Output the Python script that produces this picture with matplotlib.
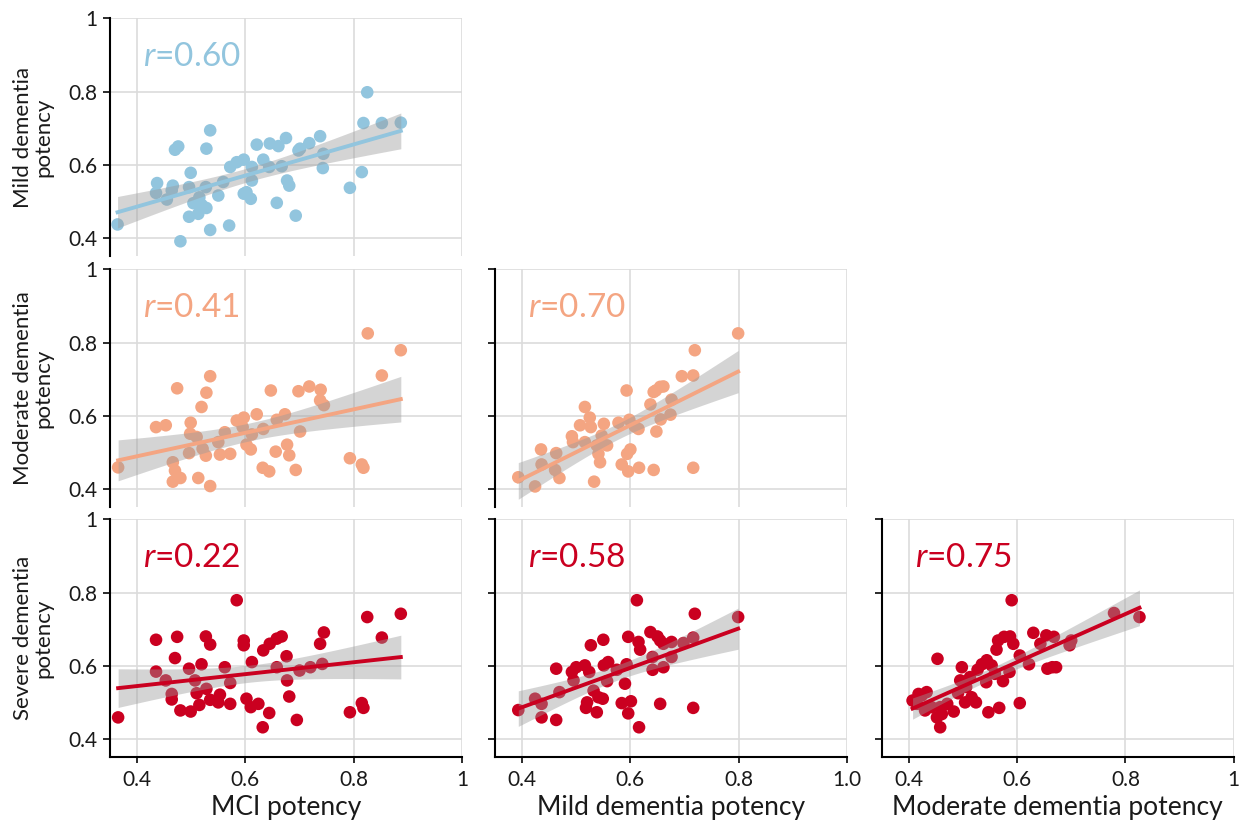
import numpy as np
import matplotlib
matplotlib.use("Agg")
import matplotlib.pyplot as plt

plt.rcParams['font.family'] = ['Lato', 'DejaVu Sans']
plt.rcParams['mathtext.fontset'] = 'custom'
plt.rcParams['mathtext.it'] = 'Lato:italic'
plt.rcParams['mathtext.rm'] = 'Lato'

# ---------------- data ----------------
mci_x_mild = [0.364, 0.480, 0.437, 0.435, 0.455, 0.466, 0.464, 0.470, 0.476, 0.499, 0.496, 0.496, 0.504,
              0.513, 0.515, 0.519, 0.528, 0.535, 0.528, 0.535, 0.527, 0.550, 0.559, 0.570, 0.572, 0.584,
              0.597, 0.602, 0.610, 0.612, 0.612, 0.597, 0.621, 0.633, 0.645, 0.644, 0.658, 0.661, 0.667,
              0.675, 0.677, 0.681, 0.693, 0.698, 0.701, 0.718, 0.738, 0.743, 0.744, 0.793, 0.815, 0.818,
              0.825, 0.852, 0.887]
mild_y_mci = [0.437, 0.391, 0.550, 0.523, 0.505, 0.543, 0.530, 0.641, 0.650, 0.578, 0.539, 0.458, 0.495,
              0.466, 0.511, 0.491, 0.482, 0.422, 0.644, 0.694, 0.539, 0.516, 0.553, 0.434, 0.594, 0.607,
              0.614, 0.525, 0.507, 0.557, 0.594, 0.521, 0.655, 0.614, 0.658, 0.594, 0.496, 0.651, 0.596,
              0.673, 0.557, 0.543, 0.461, 0.639, 0.644, 0.659, 0.678, 0.591, 0.630, 0.537, 0.580, 0.714,
              0.798, 0.714, 0.715]

mci_x_mod = [0.365, 0.435, 0.453, 0.474, 0.466, 0.470, 0.466, 0.480, 0.499, 0.498, 0.510, 0.496, 0.513,
             0.519, 0.528, 0.535, 0.527, 0.535, 0.521, 0.550, 0.553, 0.562, 0.572, 0.584, 0.597, 0.595,
             0.602, 0.610, 0.612, 0.621, 0.633, 0.632, 0.644, 0.647, 0.656, 0.658, 0.673, 0.677, 0.681,
             0.693, 0.698, 0.701, 0.718, 0.739, 0.738, 0.745, 0.793, 0.815, 0.818, 0.826, 0.852, 0.887]
mod_y_mci = [0.459, 0.569, 0.574, 0.675, 0.473, 0.450, 0.420, 0.430, 0.581, 0.551, 0.542, 0.498, 0.430,
             0.624, 0.663, 0.708, 0.491, 0.408, 0.510, 0.528, 0.494, 0.555, 0.496, 0.587, 0.595, 0.569,
             0.521, 0.508, 0.549, 0.604, 0.564, 0.458, 0.448, 0.669, 0.502, 0.589, 0.604, 0.521, 0.492,
             0.452, 0.667, 0.557, 0.680, 0.671, 0.642, 0.629, 0.484, 0.467, 0.458, 0.825, 0.710, 0.779]

mild_x_mod = [0.393, 0.424, 0.435, 0.436, 0.463, 0.461, 0.469, 0.492, 0.494, 0.507, 0.516, 0.516, 0.525,
              0.527, 0.533, 0.538, 0.541, 0.544, 0.547, 0.551, 0.557, 0.578, 0.584, 0.593, 0.594, 0.596,
              0.600, 0.598, 0.615, 0.616, 0.637, 0.643, 0.648, 0.643, 0.647, 0.655, 0.661, 0.656, 0.676,
              0.674, 0.695, 0.716, 0.719, 0.716, 0.799, 0.608]
mod_y_mild = [0.432, 0.407, 0.508, 0.467, 0.498, 0.452, 0.430, 0.544, 0.528, 0.574, 0.624, 0.528, 0.595,
              0.569, 0.420, 0.519, 0.496, 0.473, 0.546, 0.578, 0.519, 0.581, 0.467, 0.669, 0.496, 0.448,
              0.508, 0.589, 0.564, 0.458, 0.631, 0.665, 0.557, 0.452, 0.669, 0.679, 0.680, 0.590, 0.644,
              0.603, 0.708, 0.710, 0.779, 0.458, 0.825, 0.571]

mci_x_sev = [0.365, 0.435, 0.435, 0.453, 0.464, 0.464, 0.470, 0.474, 0.480, 0.496, 0.499, 0.507, 0.510,
             0.515, 0.519, 0.527, 0.535, 0.528, 0.535, 0.550, 0.553, 0.562, 0.572, 0.572, 0.584, 0.597,
             0.597, 0.602, 0.610, 0.612, 0.624, 0.633, 0.632, 0.644, 0.645, 0.658, 0.658, 0.667, 0.676,
             0.677, 0.681, 0.695, 0.700, 0.720, 0.738, 0.745, 0.742, 0.793, 0.815, 0.818, 0.825, 0.852,
             0.887]
sev_y_mci = [0.459, 0.671, 0.584, 0.560, 0.523, 0.508, 0.621, 0.679, 0.478, 0.592, 0.475, 0.560, 0.525,
             0.493, 0.604, 0.680, 0.658, 0.537, 0.507, 0.500, 0.521, 0.596, 0.553, 0.496, 0.779, 0.669,
             0.656, 0.510, 0.487, 0.610, 0.496, 0.642, 0.432, 0.471, 0.660, 0.596, 0.674, 0.680, 0.626,
             0.560, 0.516, 0.452, 0.587, 0.596, 0.660, 0.691, 0.605, 0.473, 0.498, 0.485, 0.733, 0.677,
             0.742]

mild_x_sev = [0.393, 0.424, 0.436, 0.436, 0.463, 0.463, 0.469, 0.492, 0.495, 0.500, 0.518, 0.516, 0.520,
              0.527, 0.524, 0.532, 0.538, 0.541, 0.549, 0.550, 0.551, 0.559, 0.557, 0.584, 0.590, 0.593,
              0.596, 0.596, 0.601, 0.612, 0.615, 0.618, 0.616, 0.637, 0.641, 0.641, 0.650, 0.655, 0.655,
              0.661, 0.661, 0.676, 0.676, 0.698, 0.716, 0.719, 0.716, 0.799, 0.575]
sev_y_mild = [0.479, 0.510, 0.496, 0.459, 0.452, 0.592, 0.528, 0.583, 0.560, 0.596, 0.485, 0.601, 0.500,
              0.656, 0.583, 0.532, 0.473, 0.514, 0.510, 0.671, 0.601, 0.610, 0.558, 0.498, 0.551, 0.604,
              0.679, 0.470, 0.503, 0.779, 0.665, 0.644, 0.432, 0.692, 0.624, 0.589, 0.680, 0.669, 0.496,
              0.596, 0.660, 0.665, 0.624, 0.662, 0.677, 0.742, 0.485, 0.733, 0.589]

mod_x_sev = [0.407, 0.418, 0.424, 0.433, 0.415, 0.430, 0.453, 0.442, 0.452, 0.458, 0.461, 0.458, 0.471,
             0.483, 0.491, 0.498, 0.495, 0.504, 0.506, 0.516, 0.524, 0.513, 0.527, 0.535, 0.544, 0.543,
             0.547, 0.553, 0.559, 0.562, 0.565, 0.567, 0.574, 0.576, 0.586, 0.587, 0.590, 0.593, 0.605,
             0.605, 0.622, 0.630, 0.643, 0.654, 0.656, 0.665, 0.672, 0.668, 0.697, 0.700, 0.779, 0.826]
sev_y_mod = [0.505, 0.523, 0.519, 0.528, 0.496, 0.478, 0.619, 0.487, 0.459, 0.432, 0.468, 0.487, 0.496,
             0.475, 0.525, 0.596, 0.560, 0.500, 0.542, 0.514, 0.500, 0.569, 0.589, 0.604, 0.615, 0.555,
             0.473, 0.601, 0.578, 0.644, 0.669, 0.485, 0.558, 0.679, 0.583, 0.680, 0.779, 0.660, 0.628,
             0.498, 0.604, 0.690, 0.660, 0.683, 0.592, 0.596, 0.596, 0.679, 0.656, 0.669, 0.744, 0.733]

panels = [
    # (row, col, x, y, r label, color)
    (0, 0, mci_x_mild, mild_y_mci, "0.60", "#92c5de"),
    (1, 0, mci_x_mod, mod_y_mci, "0.41", "#f4a582"),
    (1, 1, mild_x_mod, mod_y_mild, "0.70", "#f4a582"),
    (2, 0, mci_x_sev, sev_y_mci, "0.22", "#ca0020"),
    (2, 1, mild_x_sev, sev_y_mild, "0.58", "#ca0020"),
    (2, 2, mod_x_sev, sev_y_mod, "0.75", "#ca0020"),
]
row_labels = ["Mild dementia\npotency", "Moderate dementia\npotency", "Severe dementia\npotency"]
col_labels = ["MCI potency", "Mild dementia potency", "Moderate dementia potency"]
tick_vals = [0.4, 0.6, 0.8, 1.0]
tick_labels = ["0.4", "0.6", "0.8", "1"]
x_tick_labels_by_col = [["0.4", "0.6", "0.8", "1"], ["0.4", "0.6", "0.8", "1.0"], ["0.4", "0.6", "0.8", "1"]]

# ---------------- figure ----------------
W, H = 1245, 823
fig = plt.figure(figsize=(W / 100, H / 100), dpi=100)

lefts = [110, 495, 881.7]
tops = [18.3, 269.3, 519.3]
aw, ah = 352, 238

txt_color = "#1a1a1a"

for (r, c, xs, ys, rlab, col) in panels:
    ax = fig.add_axes([lefts[c] / W, 1 - (tops[r] + ah) / H, aw / W, ah / H])
    xs = np.asarray(xs); ys = np.asarray(ys)
    ax.set_xlim(0.35, 1.0)
    ax.set_ylim(0.35, 1.0)
    ax.set_xticks(tick_vals)
    ax.set_yticks(tick_vals)
    ax.grid(True, color="#dcdcdc", lw=1.2, zorder=0)
    ax.set_axisbelow(True)
    for s in ["top", "right"]:
        ax.spines[s].set_visible(False)
    ax.spines["left"].set_linewidth(1.5)
    ax.spines["left"].set_color("black")
    ax.tick_params(axis="y", length=5, width=1.3, labelsize=15, colors=txt_color, pad=4)
    if r == 2:
        ax.spines["bottom"].set_linewidth(1.5)
        ax.spines["bottom"].set_color("black")
        ax.set_xticklabels(x_tick_labels_by_col[c])
        ax.tick_params(axis="x", length=4.5, width=1.3, labelsize=15, colors=txt_color, pad=5)
        ax.set_xlabel(col_labels[c], fontsize=19, color=txt_color, labelpad=3)
    else:
        ax.spines["bottom"].set_visible(False)
        ax.tick_params(axis="x", length=0, labelbottom=False)
    if c == 0:
        ax.set_yticklabels(tick_labels)
        ax.text(-0.218, 0.5, row_labels[r], transform=ax.transAxes, rotation=90,
                ha="center", va="center", multialignment="center", fontsize=16,
                color=txt_color, linespacing=1.0)
    else:
        ax.tick_params(axis="y", labelleft=False)

    ax.scatter(xs, ys, s=82, color=col, edgecolors="none", zorder=2, clip_on=False)

    # linear fit with 95% confidence band
    n = len(xs)
    b1, b0 = np.polyfit(xs, ys, 1)
    xg = np.linspace(xs.min(), xs.max(), 100)
    yg = b0 + b1 * xg
    resid = ys - (b0 + b1 * xs)
    s_err = np.sqrt(np.sum(resid ** 2) / (n - 2))
    tval = 1.96 + 2.4 / (n - 2)
    se = s_err * np.sqrt(1 / n + (xg - xs.mean()) ** 2 / np.sum((xs - xs.mean()) ** 2))
    ax.fill_between(xg, yg - tval * se, yg + tval * se, color="#9a9a9a", alpha=0.42,
                    lw=0, zorder=3)
    ax.plot(xg, yg, color=col, lw=2.8, zorder=4)

    ax.text(0.094, 0.80, r"$r$=" + rlab, transform=ax.transAxes, fontsize=24,
            color=col, ha="left", va="baseline")

fig.savefig("out.png", dpi=100)
